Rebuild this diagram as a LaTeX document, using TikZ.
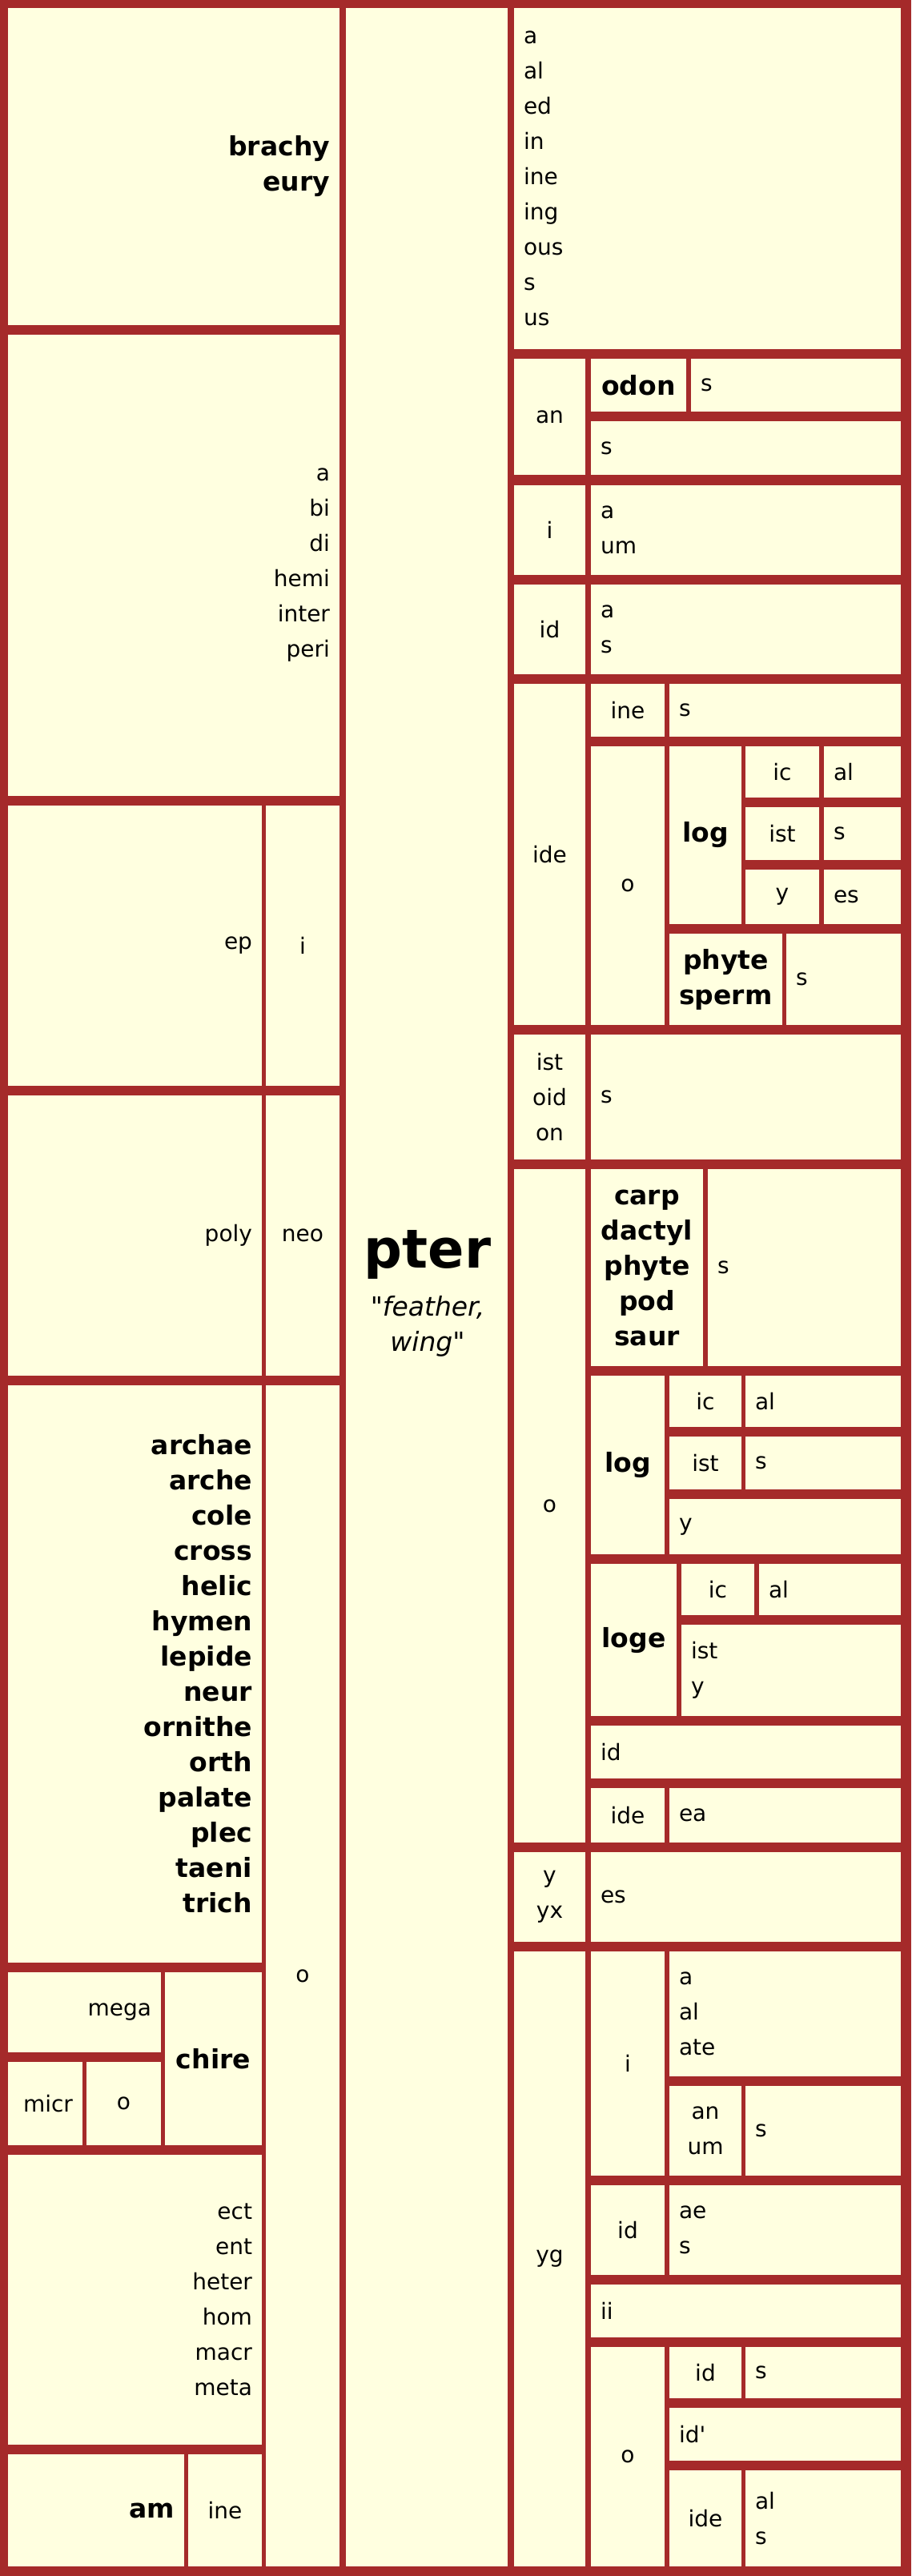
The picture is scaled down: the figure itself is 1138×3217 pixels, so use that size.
\documentclass[tikz,border=0pt]{standalone}
\usepackage{fontspec}
\newfontfamily\dv{DejaVu Sans}
\definecolor{frame}{RGB}{165,42,42}
\definecolor{paper}{RGB}{255,255,224}
\tikzset{
  cellbox/.style={fill=paper, draw=none, inner xsep=0pt, inner ysep=0pt,
    font=\dv\fontsize{28}{44}\selectfont},
  bold/.style={font=\dv\bfseries\fontsize{33}{44}\selectfont},
  rootword/.style={font=\dv\bfseries\fontsize{67}{70}\selectfont, inner sep=0pt},
  gloss/.style={font=\dv\itshape\fontsize{33}{44}\selectfont, inner sep=0pt},
}
\newcommand\tcell[7]{%
  \pgfmathsetmacro\cellw{#4-#2}%
  \pgfmathsetmacro\cellh{#5-#3}%
  \pgfmathsetmacro\cellt{#4-#2-24}%
  \node[cellbox,minimum width=\cellw pt,minimum height=\cellh pt,text width=\cellt pt,#6]
    (#1) at ({(#2+#4)/2},{(#3+#5)/2}) {#7};}
\begin{document}
\begin{tikzpicture}[x=1pt,y=-1pt]
\fill[frame] (0,0) rectangle (1138,3217);
% ---------- left column
\tcell{brachy}{10}{10}{424}{406}{bold,align=right}{brachy\\eury}
\tcell{abi}{10}{418}{424}{994}{align=right}{a\\bi\\di\\hemi\\inter\\peri}
\tcell{ep}{10}{1006}{327}{1356}{align=right}{ep}
\tcell{epi}{332}{1006}{424}{1356}{align=center}{i}
\tcell{poly}{10}{1368}{327}{1718}{align=right}{poly}
\tcell{neo}{332}{1368}{424}{1718}{align=center}{neo}
\tcell{archae}{10}{1730}{327}{2451}{bold,align=right}{archae\\arche\\cole\\cross\\helic\\hymen\\lepide\\neur\\ornithe\\orth\\palate\\plec\\taeni\\trich}
\tcell{mega}{10}{2463}{201}{2563}{align=right}{mega}
\tcell{chire}{206}{2463}{327}{2679}{bold,align=center}{chire}
\tcell{micr}{10}{2575}{103}{2679}{align=right}{micr}
\tcell{microo}{108}{2575}{201}{2679}{align=center}{o}
\tcell{ect}{10}{2691}{327}{3053}{align=right}{ect\\ent\\heter\\hom\\macr\\meta}
\tcell{am}{10}{3065}{230}{3205}{bold,align=right}{am}
\tcell{amine}{235}{3065}{327}{3205}{align=center}{ine}
\tcell{lefto}{332}{1730}{424}{3205}{align=center}{o}
% ---------- middle column
\tcell{root}{432}{10}{634}{3205}{}{}
\node[rootword,anchor=base] (pter) at (534,1583) {pter};
\node[gloss,anchor=base] (gloss1) at (534,1643) {"feather,};
\node[gloss,anchor=base] (gloss2) at (534,1687) {wing"};
% ---------- right column
\tcell{suf}{642}{10}{1125}{436}{align=left}{a\\al\\ed\\in\\ine\\ing\\ous\\s\\us}
\tcell{an}{642}{448}{731}{593}{align=center}{an}
\tcell{odon}{738}{448}{857}{514}{bold,align=center}{odon}
\tcell{odons}{863}{448}{1125}{514}{align=left}{s}
\tcell{ans}{738}{526}{1125}{593}{align=left}{s}
\tcell{ri}{642}{606}{731}{718}{align=center}{i}
\tcell{ria}{738}{606}{1125}{718}{align=left}{a\\um}
\tcell{rid}{642}{730}{731}{842}{align=center}{id}
\tcell{rida}{738}{730}{1125}{842}{align=left}{a\\s}
\tcell{ride}{642}{854}{731}{1280}{align=center}{ide}
\tcell{idine}{738}{854}{830}{920}{align=center}{ine}
\tcell{idines}{836}{854}{1125}{920}{align=left}{s}
\tcell{ido}{738}{932}{830}{1280}{align=center}{o}
\tcell{idolog}{836}{932}{926}{1154}{bold,align=center}{log}
\tcell{idoic}{931}{932}{1023}{996}{align=center}{ic}
\tcell{idoal}{1029}{932}{1125}{996}{align=left}{al}
\tcell{idoist}{931}{1008}{1023}{1074}{align=center}{ist}
\tcell{idoists}{1029}{1008}{1125}{1074}{align=left}{s}
\tcell{idoy}{931}{1086}{1023}{1154}{align=center}{y}
\tcell{idoyes}{1029}{1086}{1125}{1154}{align=left}{es}
\tcell{phyte}{836}{1166}{977}{1280}{bold,align=center}{phyte\\sperm}
\tcell{phytes}{982}{1166}{1125}{1280}{align=left}{s}
\tcell{rist}{642}{1292}{731}{1448}{align=center}{ist\\oid\\on}
\tcell{rists}{738}{1292}{1125}{1448}{align=left}{s}
\tcell{ro}{642}{1460}{731}{2301}{align=center}{o}
\tcell{carp}{738}{1460}{878}{1706}{bold,align=center}{carp\\dactyl\\phyte\\pod\\saur}
\tcell{carps}{884}{1460}{1125}{1706}{align=left}{s}
\tcell{log}{738}{1718}{830}{1941}{bold,align=center}{log}
\tcell{logic}{836}{1718}{926}{1782}{align=center}{ic}
\tcell{logal}{931}{1718}{1125}{1782}{align=left}{al}
\tcell{logist}{836}{1794}{926}{1860}{align=center}{ist}
\tcell{logists}{931}{1794}{1125}{1860}{align=left}{s}
\tcell{logy}{836}{1872}{1125}{1941}{align=left}{y}
\tcell{loge}{738}{1953}{845}{2143}{bold,align=center}{loge}
\tcell{logeic}{851}{1953}{942}{2017}{align=center}{ic}
\tcell{logeal}{948}{1953}{1125}{2017}{align=left}{al}
\tcell{logeist}{851}{2029}{1125}{2143}{align=left}{ist\\y}
\tcell{oid}{738}{2155}{1125}{2221}{align=left}{id}
\tcell{oide}{738}{2233}{830}{2301}{align=center}{ide}
\tcell{oidea}{836}{2233}{1125}{2301}{align=left}{ea}
\tcell{ry}{642}{2313}{731}{2425}{align=center}{y\\yx}
\tcell{ryes}{738}{2313}{1125}{2425}{align=left}{es}
\tcell{yg}{642}{2437}{731}{3205}{align=center}{yg}
\tcell{ygi}{738}{2437}{830}{2717}{align=center}{i}
\tcell{ygia}{836}{2437}{1125}{2593}{align=left}{a\\al\\ate}
\tcell{ygian}{836}{2605}{926}{2717}{align=center}{an\\um}
\tcell{ygians}{931}{2605}{1125}{2717}{align=left}{s}
\tcell{ygid}{738}{2729}{830}{2841}{align=center}{id}
\tcell{ygidae}{836}{2729}{1125}{2841}{align=left}{ae\\s}
\tcell{ygii}{738}{2853}{1125}{2919}{align=left}{ii}
\tcell{ygo}{738}{2931}{830}{3205}{align=center}{o}
\tcell{ygoid}{836}{2931}{926}{2995}{align=center}{id}
\tcell{ygoids}{931}{2931}{1125}{2995}{align=left}{s}
\tcell{ygoidp}{836}{3007}{1125}{3073}{align=left}{id'}
\tcell{ygoide}{836}{3085}{926}{3205}{align=center}{ide}
\tcell{ygoideal}{931}{3085}{1125}{3205}{align=left}{al\\s}
\end{tikzpicture}
\end{document}
